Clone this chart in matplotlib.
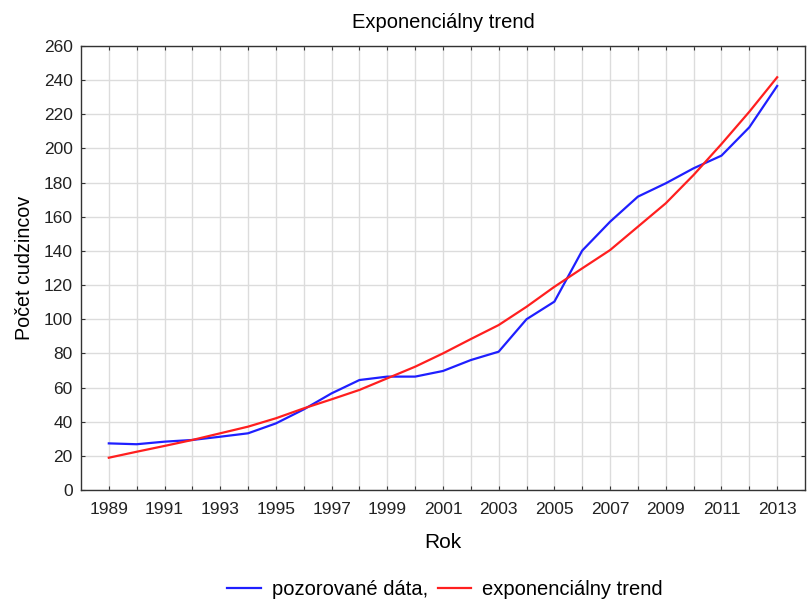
import matplotlib
matplotlib.use("Agg")
import matplotlib.pyplot as plt

plt.rcParams['font.family'] = ['Liberation Sans', 'DejaVu Sans']

# roky a hodnoty odčítané z grafu
roky = list(range(1989, 2014))
pozorovane = [27.3, 26.8, 28.3, 29.3, 31.2, 33.2, 39.0, 47.2, 56.6, 64.4,
              66.4, 66.4, 69.7, 76.1, 81.0, 100.0, 110.3, 140.2, 157.1, 171.8,
              179.6, 188.4, 195.8, 212.4, 236.6]
trend = [18.9, 22.4, 25.8, 29.3, 33.2, 37.1, 42.0, 47.8, 53.1, 58.6,
         65.4, 72.2, 80.0, 88.4, 96.6, 107.3, 119.0, 129.8, 140.5, 154.2,
         167.9, 184.5, 202.6, 221.5, 241.7]
y_ticks = list(range(0, 261, 20))
x_labels = list(range(1989, 2014, 2))

fig = plt.figure(figsize=(8.08, 6.03), dpi=100)
ax = fig.add_axes([0.1002, 0.1874, 0.8961, 0.7363])

ax.plot(roky, pozorovane, color='#1f1fff', lw=1.6, label='pozorované dáta,')
ax.plot(roky, trend, color='#ff1f1f', lw=1.6, label='exponenciálny trend')

ax.set_xlim(1988, 2014)
ax.set_ylim(0, 260)
ax.set_yticks(y_ticks)
ax.set_xticks(roky)
ax.set_xticklabels([str(r) if r in x_labels else '' for r in roky])
ax.grid(True, color='#dcdcdc', lw=1.0)
ax.set_axisbelow(True)
ax.tick_params(direction='in', length=3, top=True, right=True,
               labelsize=12.5, colors='#333333', labelcolor='#222222')
ax.tick_params(axis='x', pad=9)
ax.tick_params(axis='y', pad=6)
for s in ax.spines.values():
    s.set_color('#333333')
    s.set_linewidth(1.0)

ax.set_title('Exponenciálny trend', fontsize=14.5, pad=13)
ax.set_xlabel('Rok', fontsize=15, labelpad=11)
ax.set_ylabel('Počet cudzincov', fontsize=14.2, labelpad=7)

fig.legend(loc='center', bbox_to_anchor=(0.551, 0.0216), ncol=2, frameon=False,
           fontsize=14.5, handlelength=1.65, columnspacing=0.5, handletextpad=0.55)

fig.savefig('out.png', dpi=100)
